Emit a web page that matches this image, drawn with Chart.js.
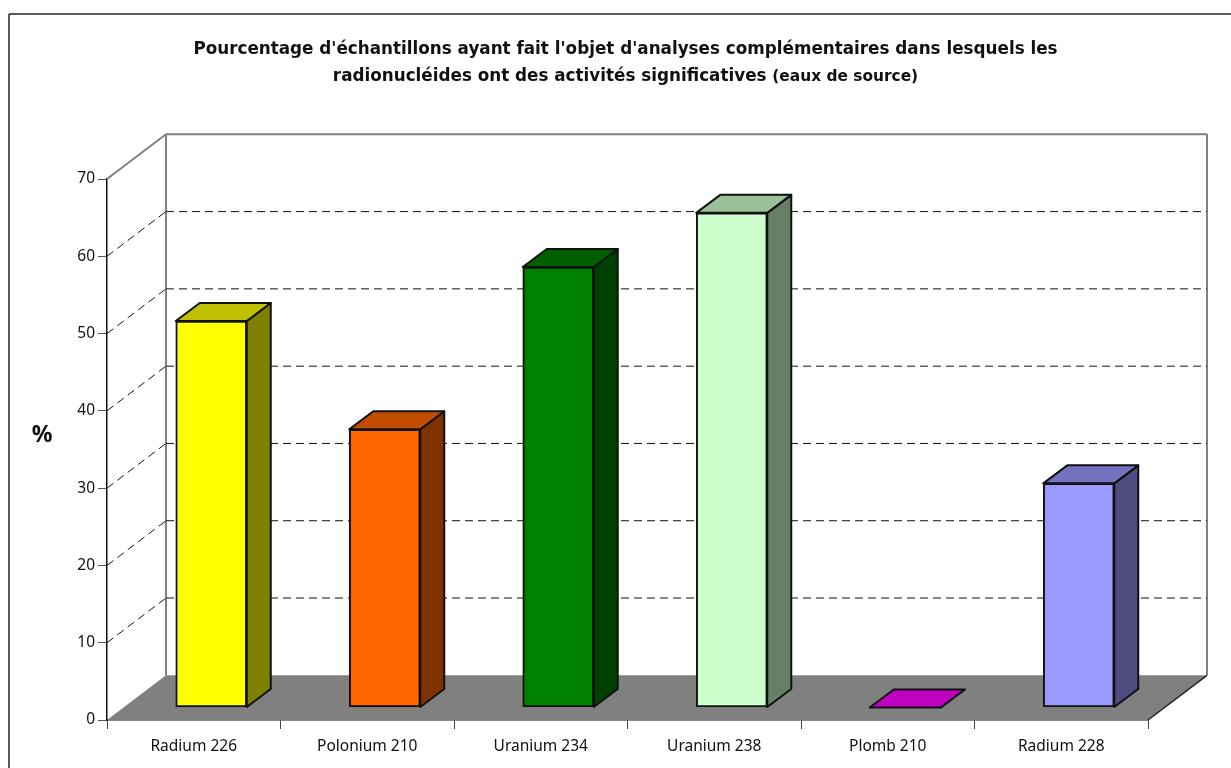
<!DOCTYPE html>
<html lang="fr">
<head>
<meta charset="utf-8">
<title>Radionucléides</title>
<script src="https://cdn.jsdelivr.net/npm/chart.js@4/dist/chart.umd.min.js"></script>
<style>
  html, body { margin: 0; background: #fff; overflow: hidden; }
  canvas { display: block; }
</style>
</head>
<body>
<canvas id="radioChart" width="1231" height="768"></canvas>
<script>
const categories = ["Radium 226", "Polonium 210", "Uranium 234", "Uranium 238", "Plomb 210", "Radium 228"];
const percentages = [50, 36, 57, 64, 0, 29];
const yTicks = [0, 10, 20, 30, 40, 50, 60, 70];

const frontColors = ["#ffff00", "#ff6600", "#008000", "#ccffcc", "#ff00ff", "#9999ff"];
const topColors = ["#c0c000", "#c04d00", "#006000", "#99c099", "#c000c0", "#7373c0"];
const sideColors = ["#808000", "#803300", "#004000", "#668066", "#800080", "#4d4d80"];

const titleLine1 = "Pourcentage d'échantillons ayant fait l'objet d'analyses complémentaires dans lesquels les";
const titleLine2 = "radionucléides ont des activités significatives";
const titleNote = "(eaux de source)";

const TITLE_FONT = '"DejaVu Sans", Verdana, sans-serif';
const TICK_FONT = '"Noto Sans", Tahoma, sans-serif';

// depth of the box and of the bars inside it
const BOX_DX = 59, BOX_DY = 44.7;
const BAR_DX = 24, BAR_DY = 18;
const BAR_SHIFT_X = 17.5, BAR_SHIFT_Y = 12.5;

function line(ctx, x1, y1, x2, y2) {
  ctx.beginPath();
  ctx.moveTo(x1, y1);
  ctx.lineTo(x2, y2);
  ctx.stroke();
}

function poly(ctx, pts, fill) {
  ctx.beginPath();
  pts.forEach((p, i) => (i ? ctx.lineTo(p[0], p[1]) : ctx.moveTo(p[0], p[1])));
  ctx.closePath();
  ctx.fillStyle = fill;
  ctx.fill();
  ctx.stroke();
}

const boxPlugin = {
  id: "box3d",
  // frame, title, walls, floor and dashed grid, all under the bars
  beforeDatasetsDraw(chart) {
    const { ctx, scales, chartArea } = chart;
    const y = scales.y;
    const { left, right } = chartArea;
    const y0 = y.getPixelForValue(0);
    const yMax = y.getPixelForValue(70);

    ctx.save();
    ctx.strokeStyle = "#222";
    ctx.lineWidth = 1.5;
    line(ctx, 9, 14, 1231, 14);
    line(ctx, 9, 14, 9, 768);

    ctx.fillStyle = "#111";
    ctx.textBaseline = "alphabetic";
    ctx.textAlign = "center";
    ctx.font = "bold 16.8px " + TITLE_FONT;
    ctx.fillText(titleLine1, 625.5, 54);
    ctx.textAlign = "left";
    const w1 = ctx.measureText(titleLine2 + " ").width;
    ctx.font = "bold 15.4px " + TITLE_FONT;
    const w2 = ctx.measureText(titleNote).width;
    const startX = 625.5 - (w1 + w2) / 2;
    ctx.fillText(titleNote, startX + w1, 81);
    ctx.font = "bold 16.8px " + TITLE_FONT;
    ctx.fillText(titleLine2, startX, 81);

    ctx.textAlign = "center";
    ctx.font = "bold 23px " + TICK_FONT;
    ctx.fillText("%", 42, 442);

    // floor
    ctx.fillStyle = "#808080";
    ctx.beginPath();
    ctx.moveTo(left, y0);
    ctx.lineTo(left + BOX_DX, y0 - BOX_DY);
    ctx.lineTo(right + BOX_DX, y0 - BOX_DY);
    ctx.lineTo(right, y0);
    ctx.closePath();
    ctx.fill();

    // walls
    ctx.strokeStyle = "#808080";
    ctx.lineWidth = 2;
    line(ctx, left, yMax, left + BOX_DX, yMax - BOX_DY);
    line(ctx, left + BOX_DX, yMax - BOX_DY, right + BOX_DX, yMax - BOX_DY);
    line(ctx, left + BOX_DX, yMax - BOX_DY, left + BOX_DX, y0 - BOX_DY);
    line(ctx, right + BOX_DX, yMax - BOX_DY, right + BOX_DX, y0 - BOX_DY);

    ctx.strokeStyle = "#222";
    ctx.lineWidth = 1.5;
    line(ctx, right, y0, right + BOX_DX, y0 - BOX_DY);

    // dashed grid on the side and back walls
    ctx.strokeStyle = "#111";
    ctx.lineWidth = 1;
    ctx.setLineDash([8, 5]);
    yTicks.filter((v) => v > 0 && v < 70).forEach((v) => {
      const py = y.getPixelForValue(v);
      line(ctx, left, py, left + BOX_DX, py - BOX_DY);
      line(ctx, left + BOX_DX, py - BOX_DY, right + BOX_DX, py - BOX_DY);
    });
    ctx.restore();
  },
  // the library draws the front faces, moved back onto the floor;
  // the side and top faces go in first from the same bar elements
  beforeDatasetDraw(chart, args) {
    const { ctx } = chart;
    ctx.save();
    ctx.translate(BAR_SHIFT_X, -BAR_SHIFT_Y);
    ctx.strokeStyle = "#111";
    ctx.lineWidth = 2;
    ctx.lineJoin = "round";
    args.meta.data.forEach((bar, i) => {
      const x1 = bar.x - bar.width / 2;
      const x2 = bar.x + bar.width / 2;
      poly(ctx, [[x2, bar.y], [x2 + BAR_DX, bar.y - BAR_DY], [x2 + BAR_DX, bar.base - BAR_DY], [x2, bar.base]], sideColors[i]);
      poly(ctx, [[x1, bar.y], [x1 + BAR_DX, bar.y - BAR_DY], [x2 + BAR_DX, bar.y - BAR_DY], [x2, bar.y]], topColors[i]);
    });
  },
  afterDatasetDraw(chart) {
    chart.ctx.restore();
  }
};

new Chart(document.getElementById("radioChart"), {
  type: "bar",
  data: {
    labels: categories,
    datasets: [{
      data: percentages,
      backgroundColor: frontColors,
      borderColor: "#111",
      borderWidth: 2,
      borderSkipped: false,
      barThickness: 71
    }]
  },
  plugins: [boxPlugin],
  options: {
    responsive: false,
    animation: false,
    layout: { padding: { top: 179, right: 83, left: 0, bottom: 0 } },
    plugins: { legend: { display: false }, title: { display: false }, tooltip: { enabled: false } },
    scales: {
      x: {
        afterFit: (scale) => { scale.height = 48; },
        grid: { offset: true, drawOnChartArea: false, drawTicks: true, tickLength: 9, color: "#444" },
        border: { color: "#111", width: 1.5 },
        ticks: { color: "#111", font: { family: TICK_FONT, size: 15.5 }, padding: 8, maxRotation: 0 }
      },
      y: {
        min: 0,
        max: 70,
        afterFit: (scale) => { scale.width = 107; },
        afterBuildTicks: (scale) => { scale.ticks = yTicks.map((value) => ({ value })); },
        grid: { drawOnChartArea: false, drawTicks: true, tickLength: 9, color: "#555" },
        border: { color: "#111", width: 1.5 },
        ticks: { color: "#111", font: { family: TICK_FONT, size: 15.5 }, padding: 3 }
      }
    }
  }
});
</script>
</body>
</html>
